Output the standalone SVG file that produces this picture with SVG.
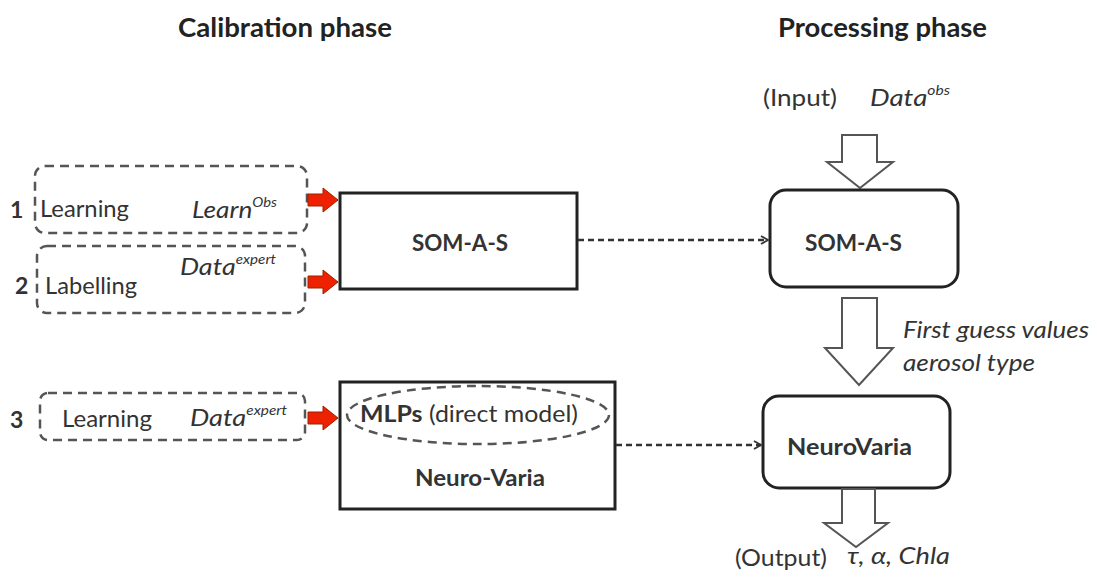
<svg xmlns="http://www.w3.org/2000/svg" width="1097" height="577" viewBox="0 0 1097 577">
<style>
text{font-family:Lato,"Open Sans","Liberation Sans",sans-serif;fill:#333}
.t{font-size:26px;font-weight:bold;fill:#222}
.n{font-size:23px}
.b{font-weight:bold}
.i{font-style:italic}
.sup{font-size:13px;font-style:italic}
.dash{fill:none;stroke:#555;stroke-width:2.5;stroke-dasharray:9 6}
.box{fill:#fff;stroke:#222;stroke-width:3}
.hollow{fill:#fff;stroke:#555;stroke-width:2}
.red{fill:#ee2200;stroke:#992200;stroke-width:1}
.conn{fill:none;stroke:#333;stroke-width:2.5;stroke-dasharray:6 4}
</style>
<defs>
<marker id="ah" markerWidth="10" markerHeight="10" refX="8" refY="5" orient="auto" markerUnits="userSpaceOnUse">
<path d="M1,1 L8,5 L1,9" fill="none" stroke="#333" stroke-width="1.8"/>
</marker>
</defs>
<text class="t" x="178" y="37" textLength="214" lengthAdjust="spacingAndGlyphs">Calibration phase</text>
<text class="t" x="778" y="37" textLength="209" lengthAdjust="spacingAndGlyphs">Processing phase</text>

<g id="step1">
<rect class="dash" x="35" y="166" width="272" height="67" rx="10"/>
<text class="n b" x="10" y="218">1</text>
<text class="n" x="40" y="217" textLength="89" lengthAdjust="spacingAndGlyphs">Learning</text>
<text class="n i" x="192" y="218" textLength="85" lengthAdjust="spacingAndGlyphs">Learn<tspan class="sup" dy="-11">Obs</tspan></text>
</g>
<g id="step2">
<rect class="dash" x="37" y="246" width="268" height="67" rx="10"/>
<text class="n b" x="15" y="294">2</text>
<text class="n" x="45" y="294" textLength="92" lengthAdjust="spacingAndGlyphs">Labelling</text>
<text class="n i" x="180" y="275" textLength="96" lengthAdjust="spacingAndGlyphs">Data<tspan class="sup" dy="-11">expert</tspan></text>
</g>
<g id="step3">
<rect class="dash" x="40" y="393" width="265" height="47" rx="8"/>
<text class="n b" x="10" y="428">3</text>
<text class="n" x="62" y="427" textLength="90" lengthAdjust="spacingAndGlyphs">Learning</text>
<text class="n i" x="190" y="426" textLength="97" lengthAdjust="spacingAndGlyphs">Data<tspan class="sup" dy="-11">expert</tspan></text>
</g>

<g id="red-arrows">
<path class="red" d="M308,194 L323,194 L323,188 L338,200 L323,212 L323,206 L308,206 Z"/>
<path class="red" d="M308,276 L323,276 L323,270 L338,282 L323,294 L323,288 L308,288 Z"/>
<path class="red" d="M308,412 L323,412 L323,406 L338,418 L323,430 L323,424 L308,424 Z"/>
</g>

<g id="som-cal">
<rect class="box" x="340" y="193" width="237" height="96"/>
<text class="n b" x="412" y="251" textLength="96" lengthAdjust="spacingAndGlyphs">SOM-A-S</text>
</g>
<g id="neuro-cal">
<rect class="box" x="340" y="382" width="275" height="127" stroke-width="2.5"/>
<ellipse class="dash" cx="478" cy="415" rx="131" ry="29"/>
<text class="n" x="360" y="422" textLength="218" lengthAdjust="spacingAndGlyphs"><tspan class="b">MLPs</tspan> (direct model)</text>
<text class="n b" x="415" y="486" textLength="130" lengthAdjust="spacingAndGlyphs">Neuro-Varia</text>
</g>

<g id="input">
<text class="n" x="763" y="106" textLength="74" lengthAdjust="spacingAndGlyphs">(Input)</text>
<text class="n i" x="870" y="106" textLength="80" lengthAdjust="spacingAndGlyphs">Data<tspan class="sup" dy="-11">obs</tspan></text>
<path class="hollow" d="M842,135 L877,135 L877,162 L893,162 L860,188 L827,162 L842,162 Z"/>
</g>
<g id="som-proc">
<rect class="box" x="770" y="190" width="188" height="97" rx="16"/>
<text class="n b" x="805" y="251" textLength="97" lengthAdjust="spacingAndGlyphs">SOM-A-S</text>
</g>
<g id="guess">
<path class="hollow" d="M842,298 L877,298 L877,348 L893,348 L859,385 L825,348 L842,348 Z"/>
<text class="n i" x="903" y="338" textLength="186" lengthAdjust="spacingAndGlyphs">First guess values</text>
<text class="n i" x="903" y="371" textLength="132" lengthAdjust="spacingAndGlyphs">aerosol type</text>
</g>
<g id="neuro-proc">
<rect class="box" x="763" y="396" width="187" height="92" rx="16"/>
<text class="n b" x="787" y="455" textLength="125" lengthAdjust="spacingAndGlyphs">NeuroVaria</text>
</g>
<g id="output">
<path class="hollow" d="M842,489 L875,489 L875,523 L888,523 L856,547 L824,523 L842,523 Z"/>
<text class="n" x="735" y="566" textLength="92" lengthAdjust="spacingAndGlyphs">(Output)</text>
<text class="n i" x="847" y="564" textLength="103" lengthAdjust="spacingAndGlyphs">τ, α, Chla</text>
</g>

<g id="connectors">
<path class="conn" d="M578,240 L768,240" marker-end="url(#ah)"/>
<path class="conn" d="M616,445 L761,445" marker-end="url(#ah)"/>
</g>
</svg>
